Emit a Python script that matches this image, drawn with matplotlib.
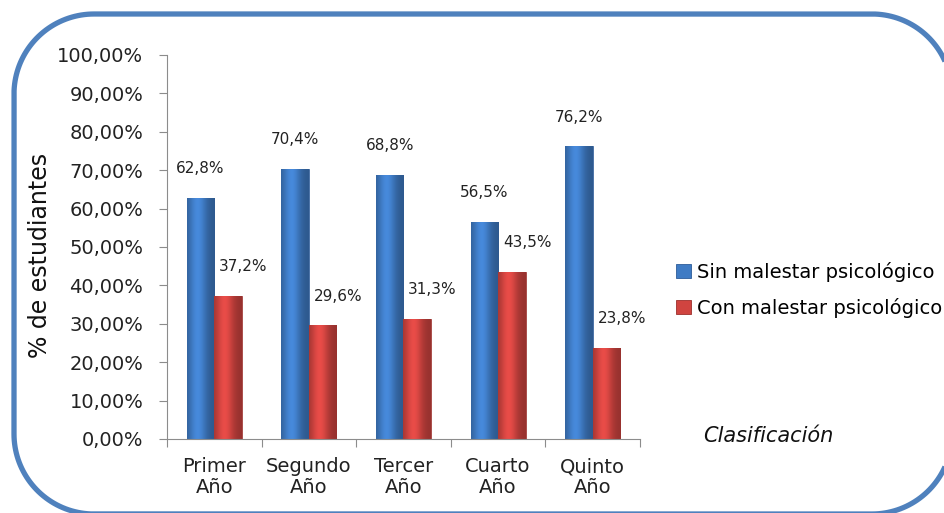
import numpy as np
import matplotlib
matplotlib.use("Agg")
import matplotlib.pyplot as plt
from matplotlib.colors import to_rgb

# data
years = ["Primer\nAño", "Segundo\nAño", "Tercer\nAño", "Cuarto\nAño", "Quinto\nAño"]
sin_malestar = [62.8, 70.4, 68.8, 56.5, 76.2]
con_malestar = [37.2, 29.6, 31.3, 43.5, 23.8]
series_names = ["Sin malestar psicológico", "Con malestar psicológico"]

BLUE = "#3f7bc4"
RED = "#d04440"
FRAME = "#4f81bd"


def shade_bar(ax, bar, base):
    # fake the cylinder look of the office chart with a horizontal gradient
    x0, y0 = bar.get_x(), bar.get_y()
    w, h = bar.get_width(), bar.get_height()
    t = np.linspace(0, 1, 64)
    prof = 0.72 + 0.40 * np.exp(-((t - 0.38) / 0.32) ** 2)
    img = np.clip(np.array(to_rgb(base))[None, None, :] * prof[None, :, None], 0, 1)
    im = ax.imshow(img, extent=[x0, x0 + w, y0, y0 + h], aspect="auto",
                   zorder=bar.get_zorder(), interpolation="bilinear")
    im.set_clip_path(bar)
    bar.set_facecolor("none")


def rounded_rect(x0, y0, x1, y1, r, n=40):
    # polyline for a rounded rectangle (y grows downwards, pixel space)
    pts = [np.array([[(x0 + x1) / 2, y0]])]
    corners = [(x1 - r, y0 + r, -90, 0), (x1 - r, y1 - r, 0, 90),
               (x0 + r, y1 - r, 90, 180), (x0 + r, y0 + r, 180, 270)]
    for cx, cy, a0, a1 in corners:
        a = np.radians(np.linspace(a0, a1, n))
        pts.append(np.column_stack([cx + r * np.cos(a), cy + r * np.sin(a)]))
    pts = np.vstack(pts)
    return np.vstack([pts, pts[:1]])


fig = plt.figure(figsize=(9.45, 5.13), dpi=100)

# rounded blue frame around the whole chart (pixel coordinates)
bg = fig.add_axes([0, 0, 1, 1], zorder=0)
bg.set_xlim(0, 945)
bg.set_ylim(513, 0)
bg.axis("off")
rr = rounded_rect(14, 14, 952, 514, 80)
bg.plot(rr[:, 0], rr[:, 1], color=FRAME, lw=3.8, solid_joinstyle="round",
        solid_capstyle="butt")

ax = fig.add_axes([167 / 945, 1 - 439 / 513, (640 - 167) / 945, (439 - 55) / 513], zorder=1)
ax.patch.set_alpha(0)

x = np.arange(len(years))
bw = 0.29
bars1 = ax.bar(x - bw / 2, sin_malestar, bw, color=BLUE, edgecolor="#2d5c99", linewidth=0.6,
               label=series_names[0], zorder=2)
bars2 = ax.bar(x + bw / 2, con_malestar, bw, color=RED, edgecolor="#9c2f2c", linewidth=0.6,
               label=series_names[1], zorder=2)
for b in bars1:
    shade_bar(ax, b, BLUE)
for b in bars2:
    shade_bar(ax, b, RED)

for b, v in zip(bars1, sin_malestar):
    ax.annotate(f"{v:.1f}%".replace(".", ","), (b.get_x() + b.get_width() / 2, v),
                xytext=(0, 21), textcoords="offset points", ha="center", va="center",
                fontsize=11, color="#222222")
for b, v in zip(bars2, con_malestar):
    ax.annotate(f"{v:.1f}%".replace(".", ","), (b.get_x() + b.get_width() / 2, v),
                xytext=(11, 21), textcoords="offset points", ha="center", va="center",
                fontsize=11, color="#222222")

ax.set_xlim(-0.5, len(years) - 0.5)
ax.set_ylim(0, 100)
ax.set_yticks(np.arange(0, 101, 10))
ax.set_yticklabels([f"{v},00%" for v in range(0, 101, 10)])
ax.tick_params(axis="y", length=6, width=0.8, color="#8c8c8c", pad=11,
               labelsize=14, labelcolor="#222222")

# category boundaries as major ticks, names on minor ticks
ax.set_xticks(np.arange(-0.5, len(years), 1.0))
ax.set_xticklabels([])
ax.set_xticks(x, minor=True)
ax.set_xticklabels(years, minor=True, fontsize=14, color="#222222", linespacing=1.15)
ax.tick_params(axis="x", which="major", length=6, width=0.8, color="#8c8c8c")
ax.tick_params(axis="x", which="minor", length=0, pad=13)

for side in ["top", "right"]:
    ax.spines[side].set_visible(False)
for side in ["left", "bottom"]:
    ax.spines[side].set_color("#8c8c8c")
    ax.spines[side].set_linewidth(0.8)

fig.text(40 / 945, 1 - 255 / 513, "% de estudiantes", rotation=90, ha="center", va="center",
         fontsize=17, color="#111111")
fig.text(703 / 945, 1 - 436 / 513, "Clasificación", ha="left", va="center",
         fontsize=15, style="italic", color="#111111")

leg = fig.legend(handles=[bars1, bars2], labels=series_names, loc="upper left",
                 bbox_to_anchor=(676 / 945, 1 - 262 / 513), frameon=False, fontsize=14,
                 handlelength=0.75, handleheight=0.75, handletextpad=0.35,
                 labelspacing=0.8, borderpad=0, borderaxespad=0)
for h, c in zip(leg.legend_handles, [BLUE, RED]):
    h.set_facecolor(c)

fig.savefig("out.png", dpi=100)
